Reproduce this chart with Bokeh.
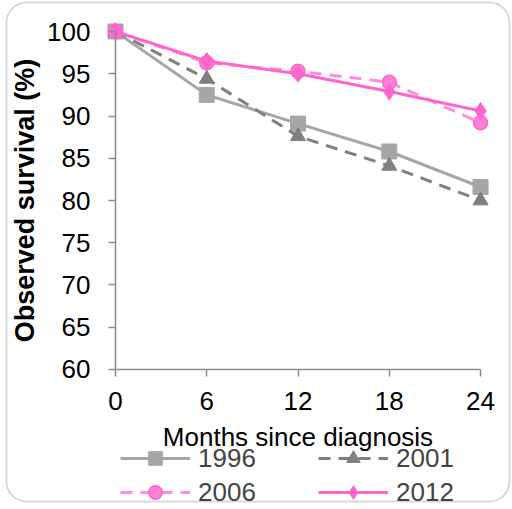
from bokeh.plotting import figure
from bokeh.models import Range1d, Legend, LegendItem, BoxAnnotation, FixedTicker
from bokeh.embed import file_html
from bokeh.resources import INLINE

months = [0, 6, 12, 18, 24]
s1996 = [100, 92.5, 89.1, 85.8, 81.6]
s2001 = [100, 94.4, 87.6, 84.1, 80.0]
s2006 = [100, 96.3, 95.3, 94.0, 89.2]
s2012 = [100, 96.5, 95.0, 92.9, 90.6]
y_ticks = [60, 65, 70, 75, 80, 85, 90, 95, 100]

FONT = "Liberation Sans"

# the frame fills the whole canvas; axes are pinned at x=0 and y=60
p = figure(width=512, height=509, output_backend="svg", toolbar_location=None,
           x_range=Range1d(-7.56, 26.10), y_range=Range1d(43.43, 103.67),
           min_border=0)
p.grid.visible = False
p.outline_line_color = None
p.background_fill_color = "white"
p.border_fill_color = "white"

for ax in (p.xaxis[0], p.yaxis[0]):
    ax.axis_line_color = "#8c8c8c"
    ax.axis_line_width = 1.5
    ax.major_tick_line_color = "#8c8c8c"
    ax.major_tick_line_width = 1.5
    ax.minor_tick_line_color = None
    ax.major_tick_in = 0
    ax.major_tick_out = 7
    ax.major_label_text_font = FONT
    ax.major_label_text_font_size = "26px"
    ax.major_label_text_color = "black"
    ax.axis_label_text_font = FONT
    ax.axis_label_text_color = "black"

p.xaxis.ticker = FixedTicker(ticks=months)
p.xaxis.bounds = (0, 24)
p.xaxis.fixed_location = 60
p.xaxis.major_label_standoff = 16
p.xaxis.axis_label = "Months since diagnosis"
p.xaxis.axis_label_text_font_size = "26px"
p.xaxis.axis_label_text_font_style = "normal"
p.xaxis.axis_label_standoff = 8

p.yaxis.ticker = FixedTicker(ticks=y_ticks)
p.yaxis.bounds = (60, 100)
p.yaxis.fixed_location = 0
p.yaxis.major_label_standoff = 18
p.yaxis.axis_label = "Observed survival (%)"
p.yaxis.axis_label_text_font_size = "27px"
p.yaxis.axis_label_text_font_style = "bold"
p.yaxis.axis_label_standoff = 4

r1l = p.line(months, s1996, line_color="#a6a6a6", line_width=3)
r1m = p.scatter(months, s1996, marker="square", size=15, fill_color="#a6a6a6", line_color="#a6a6a6")
r2l = p.line(months, s2001, line_color="#7f7f7f", line_width=3, line_dash="12 8")
r2m = p.scatter(months, s2001, marker="triangle", size=15, fill_color="#7f7f7f", line_color="#7f7f7f")
r3l = p.line(months, s2006, line_color="#ff8fd9", line_width=3, line_dash="12 8")
r3m = p.scatter(months, s2006, marker="circle", size=14, fill_color="#ff80d5", line_color="#ff66cc", line_width=1.5)
r4l = p.line(months, s2012, line_color="#ff66cc", line_width=3)
r4m = p.scatter(months, s2012, marker="diamond", size=17, fill_color="#ff66cc", line_color="#ff66cc")

legend = Legend(items=[
    LegendItem(label="1996", renderers=[r1l, r1m]),
    LegendItem(label="2001", renderers=[r2l, r2m]),
    LegendItem(label="2006", renderers=[r3l, r3m]),
    LegendItem(label="2012", renderers=[r4l, r4m]),
], orientation="horizontal", ncols=2, location=(120, 0),
   glyph_width=70, glyph_height=34, label_standoff=8, label_width=120,
   label_height=29, spacing=-5, padding=0, margin=0,
   label_text_font=FONT, label_text_font_size="26px",
   border_line_color=None, background_fill_alpha=0)
p.add_layout(legend)

border = BoxAnnotation(left=6, right=509, top=8, bottom=507,
                       left_units="screen", right_units="screen",
                       top_units="screen", bottom_units="screen",
                       fill_alpha=0, line_color="#7f7f7f", line_width=2,
                       border_radius=20, level="overlay")
p.add_layout(border)

open("out.html", "w").write(file_html(p, INLINE))
